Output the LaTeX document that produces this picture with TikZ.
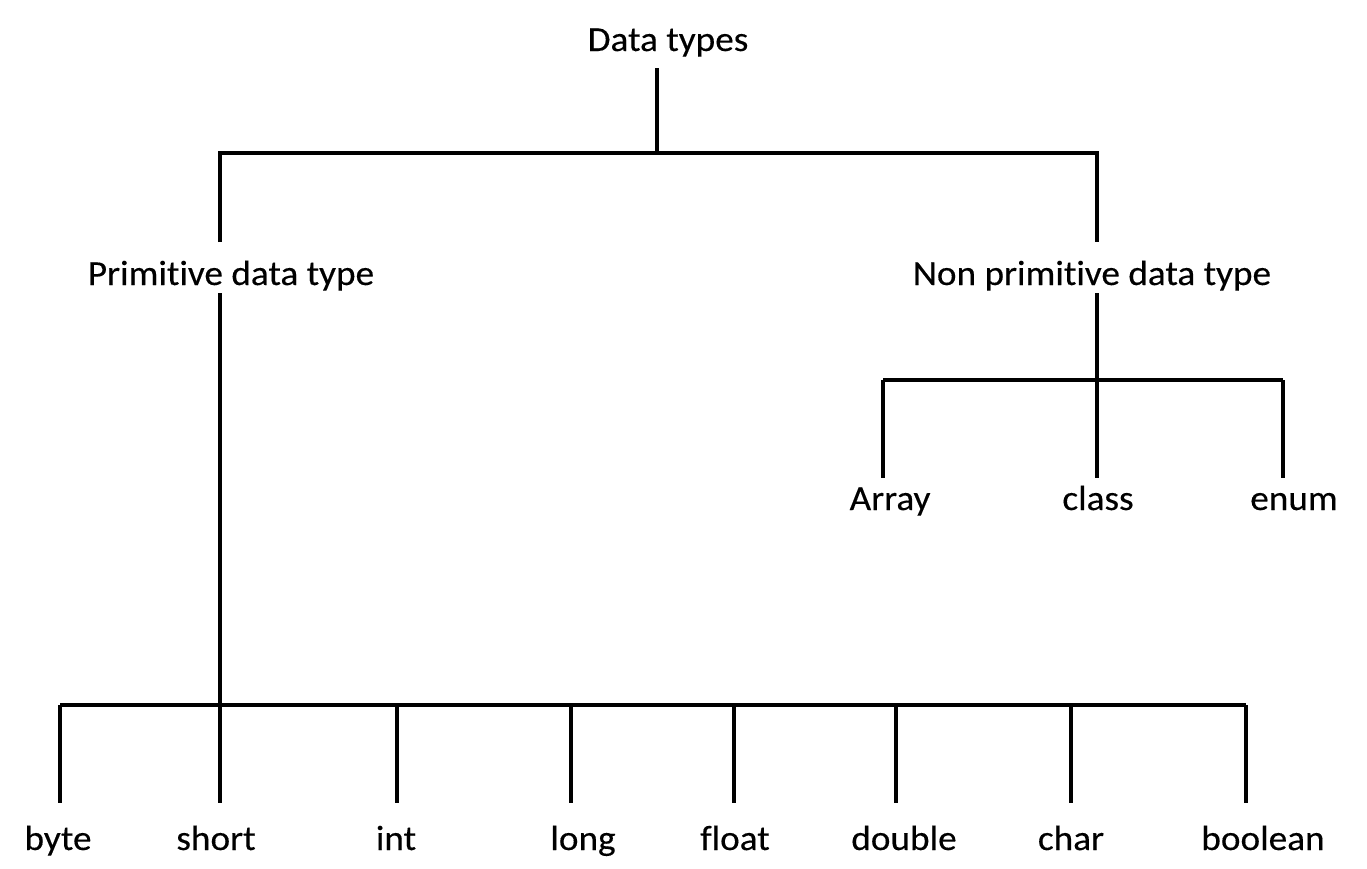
\documentclass[tikz,border=0pt]{standalone}
\usepackage{fontspec}
\setmainfont{Carlito}[Ligatures=NoCommon,FakeStretch=1.06,FakeBold=0.3]
\usetikzlibrary{positioning}

\begin{document}
\begin{tikzpicture}[x=0.02cm,y=-0.02cm,
    ast/.style={line width=2.8pt},
    typ/.style={font=\fontsize{20}{24}\selectfont,inner sep=0pt,anchor=base}]
\useasboundingbox (0,0) rectangle (1367,869);
%Wurzel
\node[typ] (root) at (668,51) {Data types};
\coordinate (rootfoot) at (657,68);
\coordinate (rootjoin) at (657,153);
\coordinate (primtop) at (220,242);
\coordinate (nprimtop) at (1097,242);
\draw[ast] (rootfoot) -- (rootjoin);
\draw[ast] (primtop) -- (primtop |- rootjoin) -- (nprimtop |- rootjoin) -- (nprimtop);
%Zweite Ebene
\node[typ] (prim) at (231,285) {Primitive data type};
\node[typ] (nprim) at (1092,285) {Non primitive data type};
\coordinate (primfoot) at (220,293);
\coordinate (primjoin) at (220,705);
\coordinate (nprimfoot) at (1097,293);
\coordinate (nprimjoin) at (1097,380);
\draw[ast] (primfoot) -- (primjoin);
\draw[ast] (nprimfoot) -- (nprimjoin);
%Primitive Typen
\draw[ast] (60,705) coordinate (pleft) -- (1246,705) coordinate (pright);
\foreach \x/\tx/\name [count=\i] in {60/58/byte,220/216/short,397/396/int,571/583/long,
    734/735/float,896/904/double,1071/1071/char,1246/1263/boolean}{
  \coordinate (pj\i) at (\x,705);
  \coordinate (pe\i) at (\x,803);
  \node[typ] (pt\i) at (\tx,850) {\name};
  \draw[ast] (pj\i) -- (pe\i);
}
%Nicht primitive Typen
\draw[ast] (883,380) coordinate (nleft) -- (1283,380) coordinate (nright);
\foreach \x/\tx/\name [count=\i] in {883/890/Array,1097/1098/class,1283/1294/enum}{
  \coordinate (nj\i) at (\x,380);
  \coordinate (ne\i) at (\x,478);
  \node[typ] (nt\i) at (\tx,510) {\name};
  \draw[ast] (nj\i) -- (ne\i);
}
\end{tikzpicture}
\end{document}
